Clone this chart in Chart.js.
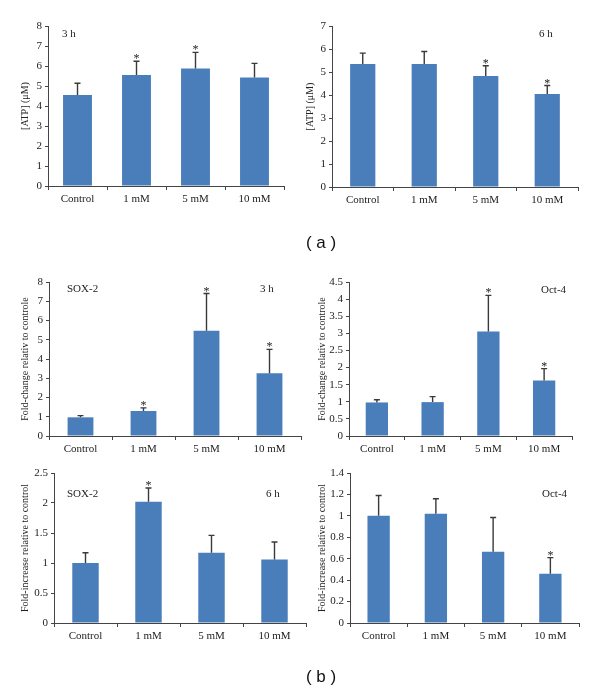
<!DOCTYPE html>
<html>
<head>
<meta charset="utf-8">
<script src="https://cdn.jsdelivr.net/npm/chart.js@4.4.1/dist/chart.umd.min.js"></script>
<style>
  html, body { margin:0; padding:0; background:#fff; }
  body { width:600px; height:692px; position:relative; overflow:hidden; }
  canvas { position:absolute; }
  .lbl { position:absolute; font-family:'Liberation Serif', serif; font-size:11px; color:#222; white-space:nowrap; line-height:12px; }
  .cap { position:absolute; font-family:'Liberation Sans', Arial, sans-serif; font-size:17px; color:#111; white-space:pre; line-height:20px; transform:translateX(-50%); }
</style>
</head>
<body>
<canvas id="c1"></canvas>
<canvas id="c2"></canvas>
<canvas id="c3"></canvas>
<canvas id="c4"></canvas>
<canvas id="c5"></canvas>
<canvas id="c6"></canvas>

<div class="lbl" style="left:62px;top:27px;">3 h</div>
<div class="lbl" style="left:539px;top:27px;">6 h</div>
<div class="lbl" style="left:67px;top:282px;">SOX-2</div>
<div class="lbl" style="left:260px;top:282px;">3 h</div>
<div class="lbl" style="left:541px;top:283px;">Oct-4</div>
<div class="lbl" style="left:67px;top:487px;">SOX-2</div>
<div class="lbl" style="left:266px;top:487px;">6 h</div>
<div class="lbl" style="left:542px;top:487px;">Oct-4</div>
<div class="cap" style="left:321px;top:233px;">( a )</div>
<div class="cap" style="left:321px;top:667px;">( b )</div>

<script>
// ---- data ----
const categories = ['Control', '1 mM', '5 mM', '10 mM'];

const atp3hMeans = [4.55, 5.55, 5.88, 5.42];
const atp3hErrors = [0.59, 0.69, 0.80, 0.71];
const atp3hSig = [false, true, true, false];
const atp3hTicks = [0, 1, 2, 3, 4, 5, 6, 7, 8];

const atp6hMeans = [5.35, 5.35, 4.83, 4.04];
const atp6hErrors = [0.47, 0.54, 0.44, 0.37];
const atp6hSig = [false, false, true, true];
const atp6hTicks = [0, 1, 2, 3, 4, 5, 6, 7];

const sox3hMeans = [0.97, 1.30, 5.47, 3.26];
const sox3hErrors = [0.09, 0.16, 1.93, 1.24];
const sox3hSig = [false, true, true, true];
const sox3hTicks = [0, 1, 2, 3, 4, 5, 6, 7, 8];

const oct3hMeans = [0.98, 0.99, 3.05, 1.62];
const oct3hErrors = [0.08, 0.16, 1.06, 0.35];
const oct3hSig = [false, false, true, true];
const oct3hTicks = [0, 0.5, 1, 1.5, 2, 2.5, 3, 3.5, 4, 4.5];

const sox6hMeans = [1.0, 2.02, 1.17, 1.06];
const sox6hErrors = [0.17, 0.23, 0.29, 0.29];
const sox6hSig = [false, true, false, false];
const sox6hTicks = [0, 0.5, 1, 1.5, 2, 2.5];

const oct6hMeans = [1.0, 1.02, 0.665, 0.46];
const oct6hErrors = [0.19, 0.14, 0.32, 0.15];
const oct6hSig = [false, false, false, true];
const oct6hTicks = [0, 0.2, 0.4, 0.6, 0.8, 1, 1.2, 1.4];

// ---- style ----
const FONT = "'Liberation Serif', 'Times New Roman', serif";
const BAR = '#4a7ebb';
const AXIS = '#444';

const errorBarPlugin = {
  id: 'errorBars',
  afterDatasetsDraw(chart) {
    const ctx = chart.ctx;
    const ds = chart.data.datasets[0];
    const meta = chart.getDatasetMeta(0);
    const y = chart.scales.y;
    ctx.save();
    meta.data.forEach((bar, i) => {
      const v = ds.data[i], e = ds.errors[i];
      const yb = y.getPixelForValue(v);
      const yt = y.getPixelForValue(v + e);
      ctx.strokeStyle = '#3a3a3a';
      ctx.lineWidth = 1.4;
      ctx.beginPath();
      ctx.moveTo(bar.x, yb);
      ctx.lineTo(bar.x, yt);
      ctx.moveTo(bar.x - 3, yt);
      ctx.lineTo(bar.x + 3, yt);
      ctx.stroke();
      if (ds.sig[i]) {
        ctx.fillStyle = '#222';
        ctx.font = '12px ' + FONT;
        ctx.textAlign = 'center';
        ctx.textBaseline = 'alphabetic';
        ctx.fillText('*', bar.x, yt + 1);
      }
    });
    ctx.restore();
  }
};

function makePanel(id, box, area, means, errors, sig, ticks, yTitle, titleX, barPct) {
  const cv = document.getElementById(id);
  cv.width = box.w; cv.height = box.h;
  cv.style.left = box.x + 'px'; cv.style.top = box.y + 'px';
  cv.style.width = box.w + 'px'; cv.style.height = box.h + 'px';
  const titleSize = 10;
  const lh = titleSize * 1.2;
  new Chart(cv, {
    type: 'bar',
    data: {
      labels: categories,
      datasets: [{
        data: means, errors: errors, sig: sig,
        backgroundColor: BAR, borderWidth: 0,
        barPercentage: barPct, categoryPercentage: 1
      }]
    },
    options: {
      responsive: false, animation: false, devicePixelRatio: 1,
      layout: { padding: { left: 0, top: area.t - box.y, right: box.x + box.w - area.r, bottom: 0 } },
      plugins: { legend: { display: false }, tooltip: { enabled: false } },
      scales: {
        x: {
          grid: { display: true, drawOnChartArea: false, drawTicks: true, tickLength: 4, color: AXIS, lineWidth: 1 },
          border: { display: true, color: AXIS, width: 1 },
          ticks: { color: '#222', font: { family: FONT, size: 11 }, padding: 3, maxRotation: 0, autoSkip: false },
          afterFit(s) { s.height = box.y + box.h - area.b; }
        },
        y: {
          min: ticks[0], max: ticks[ticks.length - 1],
          afterBuildTicks(s) { s.ticks = ticks.map(v => ({ value: v })); },
          grid: { display: true, drawOnChartArea: false, drawTicks: true, tickLength: 3, color: AXIS, lineWidth: 1 },
          border: { display: true, color: AXIS, width: 1 },
          ticks: { color: '#222', font: { family: FONT, size: 11 }, padding: 3, callback: v => String(v) },
          title: { display: true, text: yTitle, color: '#222', font: { family: FONT, size: titleSize },
                   padding: { top: titleX - box.x - lh / 2, bottom: 0 } },
          afterFit(s) { s.width = area.l - box.x; }
        }
      }
    },
    plugins: [errorBarPlugin]
  });
}

makePanel('c1', {x:0, y:0, w:300, h:215}, {l:48, t:26, r:284, b:186},
  atp3hMeans, atp3hErrors, atp3hSig, atp3hTicks, '[ATP] (\u03bcM)', 25, 0.49);
makePanel('c2', {x:300, y:0, w:300, h:215}, {l:332, t:26, r:578, b:187},
  atp6hMeans, atp6hErrors, atp6hSig, atp6hTicks, '[ATP] (\u03bcM)', 310, 0.41);
makePanel('c3', {x:0, y:262, w:310, h:200}, {l:49, t:282, r:301, b:436},
  sox3hMeans, sox3hErrors, sox3hSig, sox3hTicks, 'Fold-change relativ to controle', 25, 0.41);
makePanel('c4', {x:300, y:262, w:300, h:200}, {l:349, t:282, r:572, b:436},
  oct3hMeans, oct3hErrors, oct3hSig, oct3hTicks, 'Fold-change relativ to controle', 322, 0.40);
makePanel('c5', {x:0, y:462, w:310, h:190}, {l:54, t:473, r:306, b:623},
  sox6hMeans, sox6hErrors, sox6hSig, sox6hTicks, 'Fold-increase relative to control', 25, 0.42);
makePanel('c6', {x:300, y:462, w:300, h:190}, {l:350, t:473, r:579, b:623},
  oct6hMeans, oct6hErrors, oct6hSig, oct6hTicks, 'Fold-increase relative to control', 322, 0.39);
</script>
</body>
</html>
